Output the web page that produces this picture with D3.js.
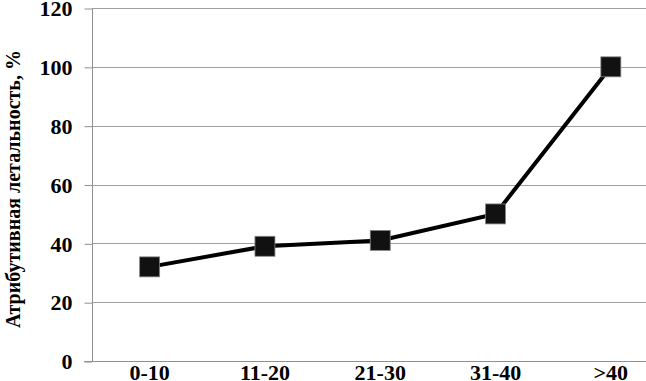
<!DOCTYPE html>
<html>
<head>
<meta charset="utf-8">
<script src="https://cdn.jsdelivr.net/npm/d3@7"></script>
<style>
  body { margin: 0; background: #fff; }
  svg { display: block; }
  .tick text { font-family: "Liberation Serif", "Times New Roman", Times, "DejaVu Serif", serif; font-weight: bold; font-size: 22px; fill: #000; }
  .label { font-family: "Liberation Serif", "Times New Roman", Times, "DejaVu Serif", serif; font-weight: bold; font-size: 20px; fill: #000; }
</style>
</head>
<body>
<div id="chart"></div>
<script>
var categories = ["0-10", "11-20", "21-30", "31-40", ">40"];
var values = [32, 39, 41, 50, 100];
var yTicks = [0, 20, 40, 60, 80, 100, 120];
var yTitle = "Атрибутивная летальность, %";

var width = 646, height = 381;
var margin = {top: 8, left: 92, bottom: 20};
var graphHeight = height - margin.top - margin.bottom;
var bandStep = 115.3;
var serif = "'Liberation Serif', 'Times New Roman', Times, 'DejaVu Serif', serif";

var svg = d3.select("#chart")
  .append("svg")
  .attr("width", width)
  .attr("height", height);

var x = d3.scaleBand()
  .domain(categories)
  .range([margin.left, margin.left + bandStep * categories.length])
  .paddingInner(0)
  .paddingOuter(0);

var y = d3.scaleLinear()
  .domain([0, 120])
  .range([margin.top + graphHeight, margin.top]);

// gridlines
svg.append("g")
  .selectAll("line")
  .data(yTicks.filter(function(d) { return d > 0; }))
  .enter()
  .append("line")
  .attr("x1", margin.left)
  .attr("x2", width)
  .attr("y1", function(d) { return Math.round(y(d)) + 0.5; })
  .attr("y2", function(d) { return Math.round(y(d)) + 0.5; })
  .style("stroke", "#a0a0a0")
  .style("stroke-width", 1);

// y axis
var yAxis = svg.append("g")
  .attr("transform", "translate(" + (margin.left + 0.5) + ",0)")
  .call(d3.axisLeft(y).tickValues(yTicks).tickSize(8).tickPadding(12))
  .attr("font-family", serif);
yAxis.selectAll("line, path").style("stroke", "#909090");
yAxis.select(".domain").attr("d", "M0," + y(0) + "V" + y(120));
yAxis.selectAll(".tick line").attr("transform", "translate(0,0.5)");
yAxis.selectAll(".tick text").attr("dy", "0.35em");

// x axis
var xAxis = svg.append("g")
  .attr("transform", "translate(0," + (Math.round(y(0)) + 0.5) + ")")
  .call(d3.axisBottom(x).tickSize(0).tickPadding(3))
  .attr("font-family", serif);
xAxis.select(".domain").attr("d", "M" + (margin.left - 8) + ",0H" + width).style("stroke", "#909090");
xAxis.selectAll(".tick text").attr("dy", "0.71em");

// y axis title
svg.append("text")
  .attr("class", "label")
  .attr("transform", "rotate(-90)")
  .attr("x", -189)
  .attr("y", 20)
  .style("text-anchor", "middle")
  .text(yTitle);

// line
var line = d3.line()
  .x(function(d, i) { return x(categories[i]) + x.bandwidth() / 2; })
  .y(function(d) { return y(d); });

svg.append("path")
  .datum(values)
  .attr("d", line)
  .style("fill", "none")
  .style("stroke", "#000")
  .style("stroke-width", 4);

// markers
svg.selectAll(".marker")
  .data(values)
  .enter()
  .append("rect")
  .attr("class", "marker")
  .attr("x", function(d, i) { return x(categories[i]) + x.bandwidth() / 2 - 10; })
  .attr("y", function(d) { return y(d) - 10; })
  .attr("width", 20)
  .attr("height", 20)
  .style("fill", "#111")
  .style("stroke", "#888")
  .style("stroke-width", 0.8);
</script>
</body>
</html>
